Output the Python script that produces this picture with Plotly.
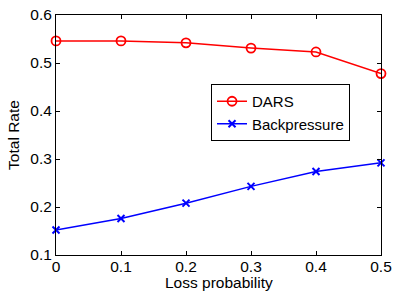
import plotly.graph_objects as go

loss_prob = [0, 0.1, 0.2, 0.3, 0.4, 0.5]
dars = [0.546, 0.546, 0.542, 0.531, 0.523, 0.478]
backpressure = [0.152, 0.176, 0.208, 0.243, 0.274, 0.292]
x_ticks = [0, 0.1, 0.2, 0.3, 0.4, 0.5]
x_tick_text = ["0", "0.1", "0.2", "0.3", "0.4", "0.5"]
y_ticks = [0.1, 0.2, 0.3, 0.4, 0.5, 0.6]
y_tick_text = ["0.1", "0.2", "0.3", "0.4", "0.5", "0.6"]

FONT = "Liberation Sans, Arial, sans-serif"

fig = go.Figure()
fig.add_trace(go.Scatter(
    x=loss_prob, y=dars, name="DARS", mode="lines+markers",
    line=dict(color="#ff0000", width=1.5),
    marker=dict(symbol="circle-open", size=9, color="#ff0000", line=dict(width=1.8)),
    cliponaxis=False,
))
fig.add_trace(go.Scatter(
    x=loss_prob, y=backpressure, name="Backpressure", mode="lines+markers",
    line=dict(color="#0000ff", width=1.5),
    marker=dict(symbol="x-thin-open", size=7, color="#0000ff", line=dict(width=2, color="#0000ff")),
    cliponaxis=False,
))

axis_common = dict(
    showgrid=False, zeroline=False, showline=True, linecolor="black", linewidth=1,
    mirror="ticks", ticks="inside", ticklen=4, tickcolor="black", automargin=False,
    tickfont=dict(family=FONT, size=15.5, color="black"),
)
fig.update_xaxes(range=[0, 0.5], tickvals=x_ticks, ticktext=x_tick_text,
                 ticklabelstandoff=-3, **axis_common)
fig.update_yaxes(range=[0.1, 0.6], tickvals=y_ticks, ticktext=y_tick_text,
                 title=dict(text="Total Rate", standoff=6,
                            font=dict(family=FONT, size=15.5, color="black")),
                 **axis_common)

fig.add_annotation(text="Loss probability", xref="paper", yref="paper",
                   x=0.5, y=-0.114, xanchor="center", yanchor="middle",
                   showarrow=False, font=dict(family=FONT, size=15.5, color="black"))

fig.update_layout(
    width=393, height=292,
    margin=dict(l=56, r=12, t=15, b=37),
    plot_bgcolor="white", paper_bgcolor="white",
    legend=dict(x=0.477, y=0.7125, xanchor="left", yanchor="top",
                bordercolor="black", borderwidth=1, bgcolor="white",
                font=dict(family=FONT, size=15, color="black"),
                tracegroupgap=0, itemwidth=30),
    showlegend=True,
)
fig.write_html("out.html", config={"displayModeBar": False},
               post_script="document.body.style.margin='0';document.body.style.padding='0';")
